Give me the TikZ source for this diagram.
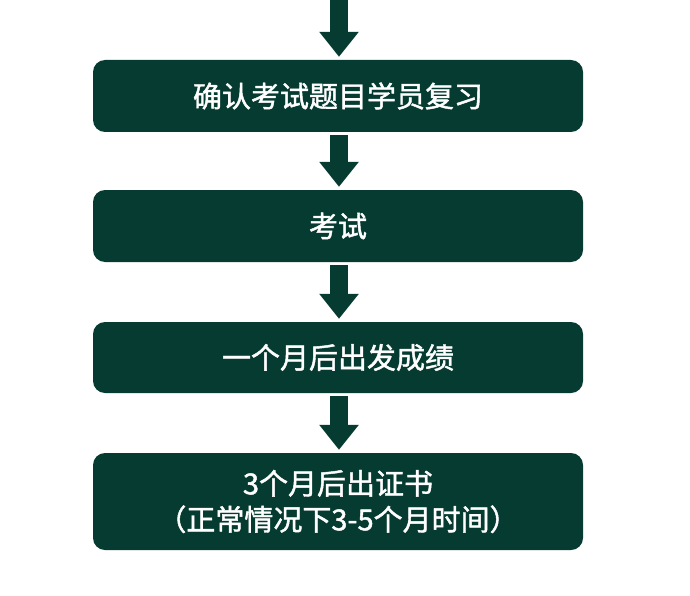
\documentclass[tikz,border=0pt]{standalone}
\usepackage{fontspec}
\newfontfamily\cjk{Noto Sans CJK SC}[FakeBold=1.5]
\usetikzlibrary{arrows.meta}
\definecolor{dkgreen}{HTML}{053B30}
\begin{document}
\begin{tikzpicture}[x=1pt,y=-1pt,
  box/.style={draw=none,fill=dkgreen,rounded corners=12pt,minimum width=490pt,text=white,font=\cjk\fontsize{29}{36}\selectfont,align=center,inner sep=0pt},
  flow/.style={draw=dkgreen,line width=18pt,shorten <=3pt,shorten >=3pt,-{Triangle[width=38pt,length=25pt]}}]
\useasboundingbox (0,0) rectangle (690,596);
\node[box,minimum height=72pt] (b1) at (338,96) {确认考试题目学员复习};
\node[box,minimum height=72pt] (b2) at (338,226) {考试};
\node[box,minimum height=71pt] (b3) at (338,357.5) {一个月后出发成绩};
\node[box,minimum height=97pt] (b4) at (338,501.5) {3个月后出证书\\（正常情况下3-5个月时间）};
\coordinate (top) at (339,-3);
\draw[flow] (top) -- (b1.north -| top);
\draw[flow] (b1.south -| top) -- (b2.north -| top);
\draw[flow] (b2.south -| top) -- (b3.north -| top);
\draw[flow] (b3.south -| top) -- (b4.north -| top);
\end{tikzpicture}
\end{document}
